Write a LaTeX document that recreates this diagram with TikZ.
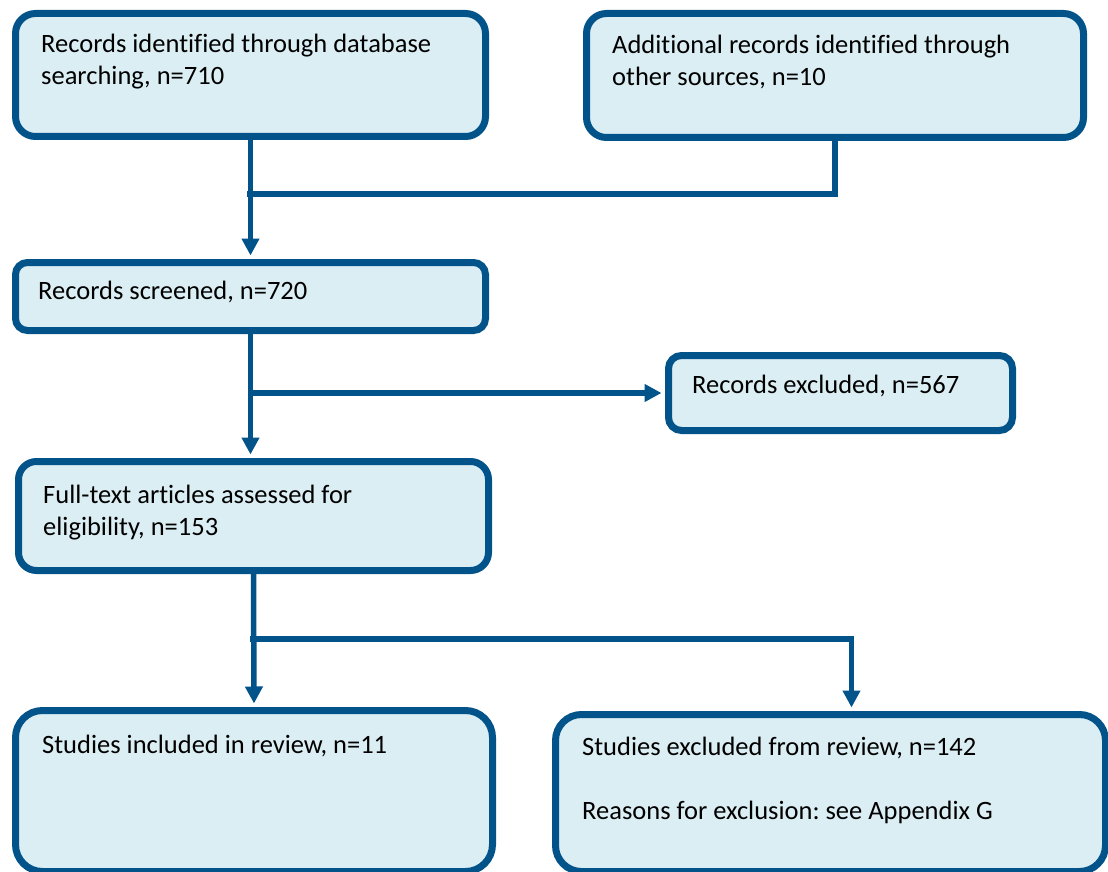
\documentclass[tikz,border=0pt]{standalone}
\usepackage{fontspec}
\setmainfont{Carlito}[Ligatures=CommonOff]
\usetikzlibrary{arrows.meta}
\definecolor{boxline}{RGB}{2,83,138}
\definecolor{boxfill}{RGB}{219,238,244}
\frenchspacing
\begin{document}
\begin{tikzpicture}[x=1pt,y=-1pt,
    box/.style={draw=boxline,fill=boxfill,line width=7pt,anchor=north west,inner sep=0pt},
    txt/.style={anchor=base west,inner sep=0pt,font=\fontsize{26.5}{32}\selectfont},
    link/.style={draw=boxline,line width=5.5pt},
    arr/.style={link,-{Triangle[length=17pt,width=17pt]},shorten >=3.5pt}]
    \useasboundingbox (0,0) rectangle (1108,872);
    \node[box,minimum width=470pt,minimum height=123pt,rounded corners=20pt] (ident) at (12,10) {};
    \node[box,minimum width=497pt,minimum height=124pt,rounded corners=20pt] (extra) at (583,10) {};
    \node[box,minimum width=470pt,minimum height=68pt,rounded corners=12pt] (screen) at (12,259) {};
    \node[box,minimum width=344pt,minimum height=75pt,rounded corners=13pt] (excl) at (665,352) {};
    \node[box,minimum width=470pt,minimum height=109pt,rounded corners=18pt] (fulltext) at (15,458) {};
    \node[box,minimum width=477pt,minimum height=161pt,rounded corners=27pt] (incl) at (12,707) {};
    \node[box,minimum width=550pt,minimum height=157pt,rounded corners=26pt] (studexcl) at (552,711) {};
    \node[txt] (identtxt) at ([xshift=29pt,yshift=-43pt]ident.north west) {\parbox[t]{440pt}{Records identified through database\\searching, n=710}};
    \node[txt] (extratxt) at ([xshift=29pt,yshift=-44pt]extra.north west) {\parbox[t]{460pt}{Additional records identified through\\other sources, n=10}};
    \node[txt] (screentxt) at ([xshift=26pt,yshift=-40pt]screen.north west) {\parbox[t]{440pt}{Records screened, n=720}};
    \node[txt] (excltxt) at ([xshift=27pt,yshift=-41pt]excl.north west) {\parbox[t]{310pt}{Records excluded, n=567}};
    \node[txt] (fulltexttxt) at ([xshift=28pt,yshift=-45pt]fulltext.north west) {\parbox[t]{440pt}{Full-text articles assessed for\\eligibility, n=153}};
    \node[txt] (incltxt) at ([xshift=30pt,yshift=-46pt]incl.north west) {\parbox[t]{440pt}{Studies included in review, n=11}};
    \node[txt] (studexcltxt) at ([xshift=30pt,yshift=-44pt]studexcl.north west) {\parbox[t]{510pt}{Studies excluded from review, n=142\\[32pt]Reasons for exclusion: see Appendix G}};
    \coordinate (join1) at (247,194);
    \coordinate (join3) at (250,639);
    \draw[arr] (ident.south) -- (screen.north);
    \draw[link] (extra.south) |- (join1);
    \draw[arr] (screen.south) -- (screen.south |- fulltext.north);
    \draw[arr] (screen.south |- excl.west) -- (excl.west);
    \draw[arr] (fulltext.south) -- (incl.north);
    \draw[arr] (join3) -| ([xshift=21pt]studexcl.north);
\end{tikzpicture}
\end{document}
